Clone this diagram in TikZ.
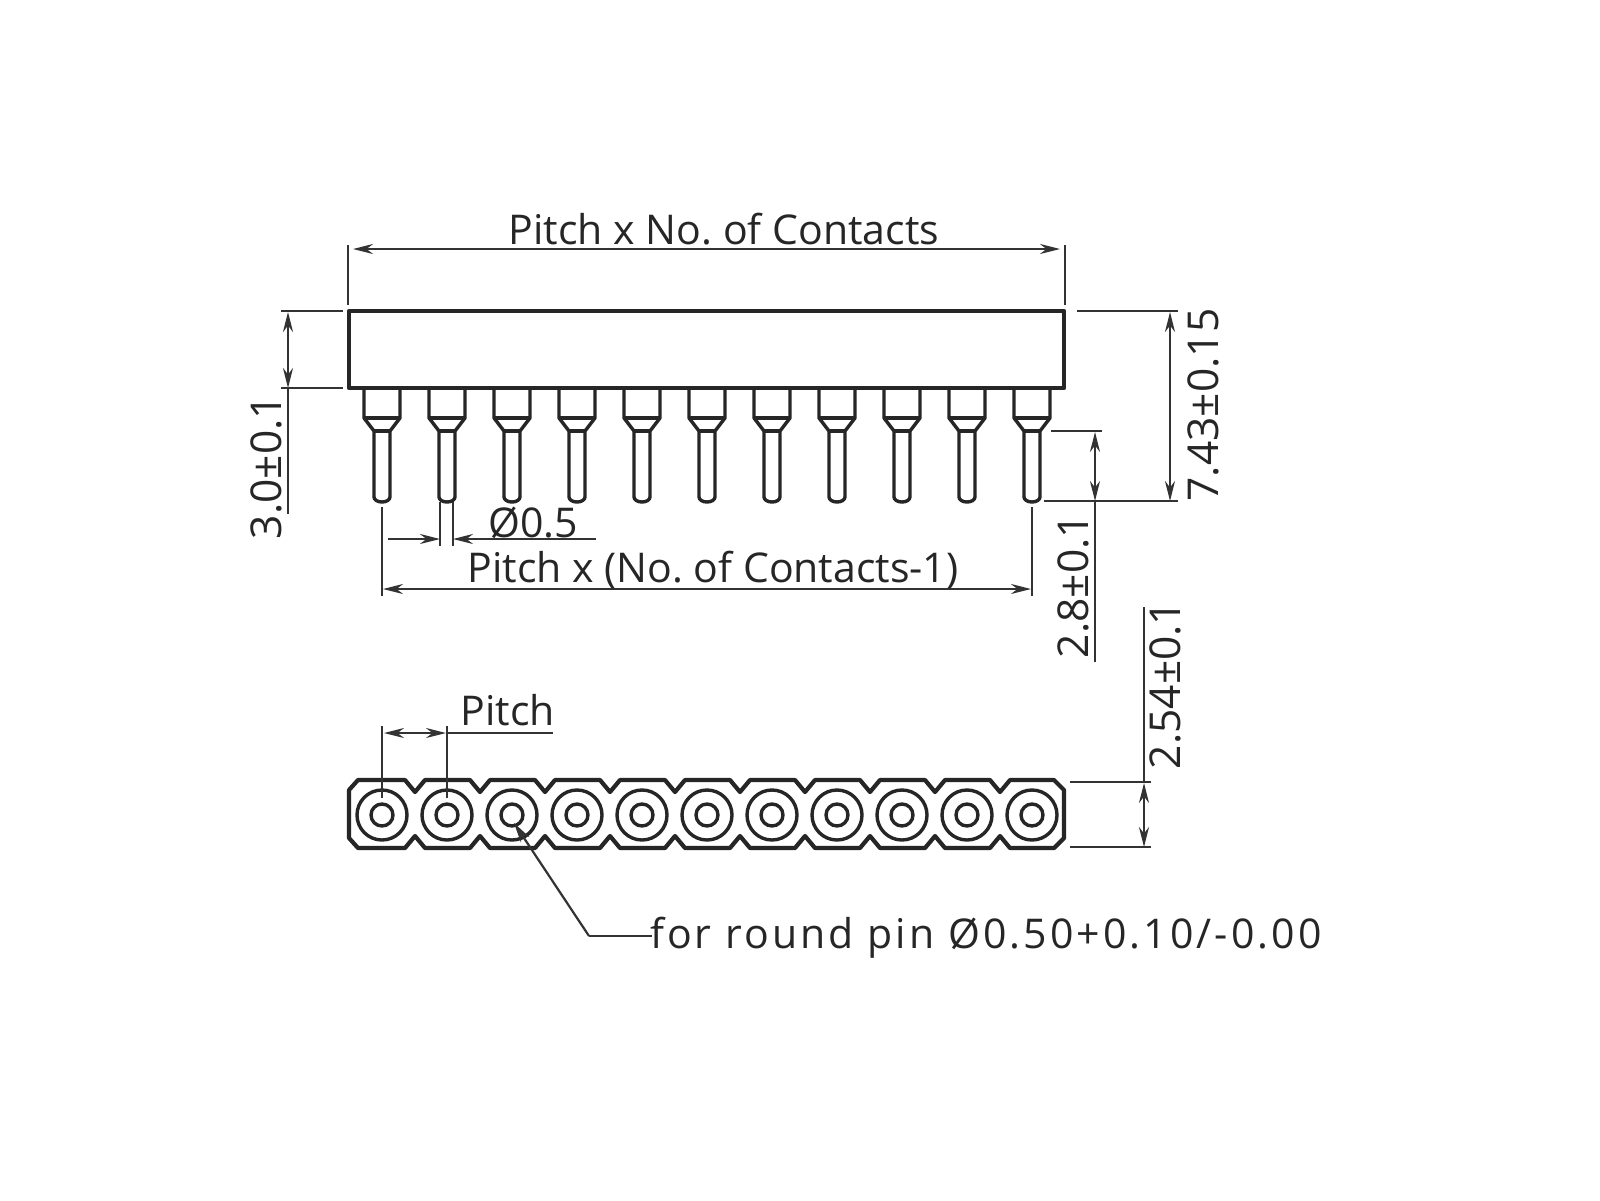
\documentclass[tikz,border=0pt]{standalone}
\usepackage{fontspec}
\setmainfont{Open Sans}
\usetikzlibrary{arrows.meta}
\frenchspacing
\tikzset{
    body/.style={line width=4.2pt,draw=black!85,line join=round},
    socket/.style={line width=3.4pt,draw=black!85,line join=round},
    dimline/.style={line width=2.2pt,draw=black!80},
    dimarrow/.style={dimline,{Stealth[length=20pt,width=10pt]}-{Stealth[length=20pt,width=10pt]}},
    onearrow/.style={dimline,-{Stealth[length=20pt,width=10pt]}},
    label/.style={inner sep=0pt,text=black!85,font=\fontsize{41}{41}\selectfont},
    sidelabel/.style={label,rotate=90,font=\fontsize{42.5}{42.5}\selectfont}
}
\begin{document}
\begin{tikzpicture}[x=1pt,y=-1pt]
    \useasboundingbox[fill=white] (0,0) rectangle (1600,1200);
    % housing, side view
    \draw[body] (349,311) rectangle (1064,388);
    \foreach \i in {0,...,10}{
        \begin{scope}[shift={({382+65*\i},0)}]
            \draw[socket] (-18,388) -- (-18,418) -- (-8,431) -- (-8,497)
                arc[start angle=180,end angle=0,x radius=8,y radius=5] -- (8,431) -- (18,418) -- (18,388);
            \draw[socket] (-18,418) -- (18,418);
            \draw[socket] (-8,431) -- (8,431);
        \end{scope}
    }
    % housing, top view
    \draw[body] (358,780)
        \foreach \i in {0,...,9}{ -- ({405+65*\i},780) -- ({415+65*\i},792) -- ({425+65*\i},780) }
        -- (1054,780) -- (1064,790) -- (1064,838) -- (1054,848)
        \foreach \i in {9,...,0}{ -- ({425+65*\i},848) -- ({415+65*\i},836) -- ({405+65*\i},848) }
        -- (358,848) -- (349,838) -- (349,790) -- cycle;
    \foreach \i in {0,...,10}{
        \draw[socket] ({382+65*\i},815) circle[radius=25];
        \draw[socket] ({382+65*\i},815) circle[radius=11];
    }
    % dimension ends
    \coordinate (wl) at (353,249);
    \coordinate (wr) at (1060,249);
    \coordinate (hl1) at (288,312);
    \coordinate (hl2) at (288,388);
    \coordinate (hl3) at (288,514);
    \coordinate (hr1) at (1170,312);
    \coordinate (hr2) at (1170,501);
    \coordinate (ph1) at (1095,432);
    \coordinate (ph2) at (1095,501);
    \coordinate (ph3) at (1095,662);
    \coordinate (sd1) at (1144,783);
    \coordinate (sd2) at (1144,847);
    \coordinate (sd3) at (1144,607);
    \coordinate (cl) at (383,589);
    \coordinate (cr) at (1031,589);
    \coordinate (tl) at (384,733);
    \coordinate (tr) at (446,733);
    \coordinate (tend) at (553,733);
    \coordinate (da) at (440,539);
    \coordinate (db) at (453,539);
    \coordinate (dl) at (388,539);
    \coordinate (dr) at (596,539);
    \coordinate (lead1) at (514,823);
    \coordinate (lead2) at (589,936);
    \coordinate (lead3) at (652,936);
    % extension lines
    \draw[dimline] (348,245) -- (348,305);
    \draw[dimline] (1065,245) -- (1065,305);
    \draw[dimline] (281,311) -- (343,311);
    \draw[dimline] (281,388) -- (343,388);
    \draw[dimline] (1077,311) -- (1178,311);
    \draw[dimline] (1044,501) -- (1178,501);
    \draw[dimline] (1051,431) -- (1102,431);
    \draw[dimline] (1070,782) -- (1151,782);
    \draw[dimline] (1070,847) -- (1151,847);
    \draw[dimline] (382,507) -- (382,596);
    \draw[dimline] (1032,507) -- (1032,596);
    \draw[dimline] (440,502) -- (440,546);
    \draw[dimline] (453,502) -- (453,546);
    \draw[dimline] (382,726) -- (382,798);
    \draw[dimline] (447,726) -- (447,798);
    % dimension lines
    \draw[dimarrow] (wl) -- (wr);
    \draw[dimarrow] (hl1) -- (hl2);
    \draw[dimline] (hl2) -- (hl3);
    \draw[dimarrow] (hr1) -- (hr2);
    \draw[dimarrow] (ph1) -- (ph2);
    \draw[dimline] (ph2) -- (ph3);
    \draw[dimarrow] (sd1) -- (sd2);
    \draw[dimline] (sd1) -- (sd3);
    \draw[dimarrow] (cl) -- (cr);
    \draw[dimarrow] (tl) -- (tr);
    \draw[dimline] (tr) -- (tend);
    \draw[onearrow] (dl) -- (da);
    \draw[onearrow] (dr) -- (db);
    \draw[onearrow] (lead2) -- (lead1);
    \draw[dimline] (lead2) -- (lead3);
    % labels
    \node[label] (lbwidth) at (724,229) {Pitch x No. of Contacts};
    \node[label] (lbspan) at (713,570) {Pitch x (No. of Contacts-1)};
    \node[label] (lbdia) at (533,523) {Ø0.5};
    \node[label] (lbpitch) at (508,710) {Pitch};
    \node[sidelabel] (lbbody) at (266,467) {3.0±0.1};
    \node[sidelabel] (lbtotal) at (1203,405) {7.43±0.15};
    \node[sidelabel] (lbtail) at (1073,586) {2.8±0.1};
    \node[sidelabel] (lbside) at (1165,685) {2.54±0.1};
    \node[label,anchor=west] (lbround) at (650,938) {\addfontfeature{LetterSpace=7.5}for round pin Ø0.50+0.10/-0.00};
\end{tikzpicture}
\end{document}
